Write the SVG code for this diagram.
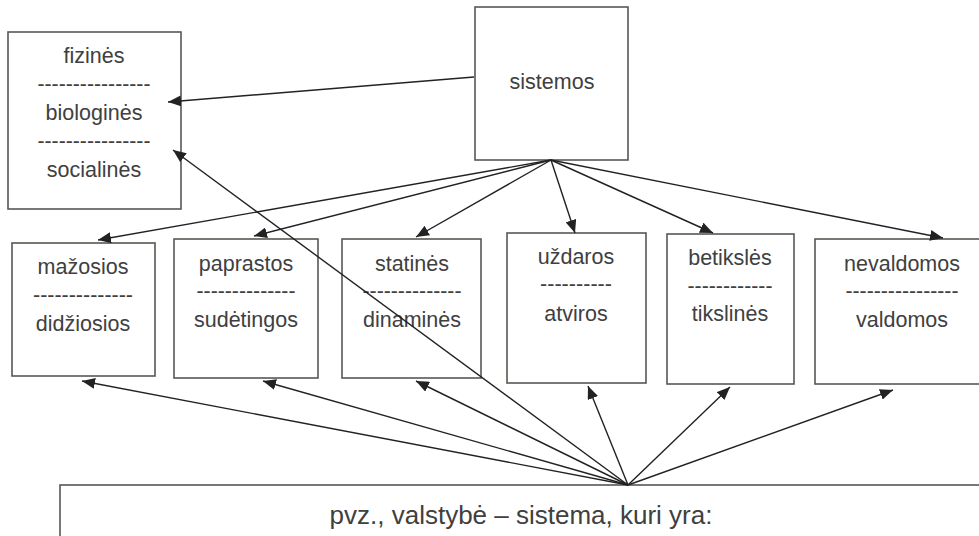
<svg xmlns="http://www.w3.org/2000/svg" width="979" height="536" viewBox="0 0 979 536">
<style>
.box{fill:#fff;stroke:#5b5652;stroke-width:1.6}
.t{font-family:"Liberation Sans",Arial,sans-serif;font-size:21.5px;fill:#404040;text-anchor:middle}
.big{font-size:26px}
.ln{stroke:#222;stroke-width:1.4;fill:none;marker-end:url(#ah)}
</style>
<defs>
<marker id="ah" markerUnits="userSpaceOnUse" markerWidth="13" markerHeight="11" refX="13" refY="5.5" orient="auto">
<path d="M0,0 L13,5.5 L0,11 z" fill="#222"/>
</marker>
</defs>
<rect width="979" height="536" fill="#fff"/>
<g id="fizines">
<rect class="box" x="8" y="32" width="173" height="177"/>
<text class="t" x="94" y="63">fizinės</text>
<text class="t" x="94" y="91" textLength="113" lengthAdjust="spacingAndGlyphs">----------------</text>
<text class="t" x="94" y="120">biologinės</text>
<text class="t" x="94" y="148" textLength="113" lengthAdjust="spacingAndGlyphs">----------------</text>
<text class="t" x="94" y="177">socialinės</text>
</g>
<g id="sistemos">
<rect class="box" x="475" y="7" width="153" height="153"/>
<text class="t" x="552" y="89">sistemos</text>
</g>
<g id="mazosios">
<rect class="box" x="12" y="243" width="143" height="133"/>
<text class="t" x="83" y="274">mažosios</text>
<text class="t" x="83" y="302" textLength="100" lengthAdjust="spacingAndGlyphs">--------------</text>
<text class="t" x="83" y="331">didžiosios</text>
</g>
<g id="paprastos">
<rect class="box" x="174" y="239" width="144" height="139"/>
<text class="t" x="246" y="271">paprastos</text>
<text class="t" x="246" y="298" textLength="99" lengthAdjust="spacingAndGlyphs">--------------</text>
<text class="t" x="246" y="327">sudėtingos</text>
</g>
<g id="statines">
<rect class="box" x="342" y="239" width="139" height="139"/>
<text class="t" x="412" y="271">statinės</text>
<text class="t" x="412" y="298" textLength="99" lengthAdjust="spacingAndGlyphs">--------------</text>
<text class="t" x="412" y="327">dinaminės</text>
</g>
<g id="uzdaros">
<rect class="box" x="507" y="233" width="139" height="150"/>
<text class="t" x="576" y="264">uždaros</text>
<text class="t" x="576" y="291" textLength="72" lengthAdjust="spacingAndGlyphs">----------</text>
<text class="t" x="576" y="321">atviros</text>
</g>
<g id="betiksles">
<rect class="box" x="667" y="234" width="127" height="150"/>
<text class="t" x="730" y="265">betikslės</text>
<text class="t" x="730" y="293" textLength="85" lengthAdjust="spacingAndGlyphs">------------</text>
<text class="t" x="730" y="321">tikslinės</text>
</g>
<g id="nevaldomos">
<rect class="box" x="815" y="239" width="170" height="145"/>
<text class="t" x="902" y="271">nevaldomos</text>
<text class="t" x="902" y="298" textLength="113" lengthAdjust="spacingAndGlyphs">----------------</text>
<text class="t" x="902" y="327">valdomos</text>
</g>
<g id="valstybe">
<rect class="box" x="60" y="485" width="930" height="60"/>
<text class="t big" x="521" y="524">pvz., valstybė – sistema, kuri yra:</text>
</g>
<g id="connectors">
<line class="ln" x1="474" y1="77" x2="168" y2="102"/>
<line class="ln" x1="551" y1="160" x2="98" y2="240"/>
<line class="ln" x1="551" y1="160" x2="254" y2="236"/>
<line class="ln" x1="551" y1="160" x2="416" y2="237"/>
<line class="ln" x1="551" y1="160" x2="575" y2="233"/>
<line class="ln" x1="551" y1="160" x2="713" y2="233"/>
<line class="ln" x1="551" y1="160" x2="943" y2="238"/>
<line class="ln" x1="628" y1="485" x2="82" y2="381"/>
<line class="ln" x1="628" y1="485" x2="263" y2="381"/>
<line class="ln" x1="628" y1="485" x2="416" y2="381"/>
<line class="ln" x1="628" y1="485" x2="588" y2="386"/>
<line class="ln" x1="628" y1="485" x2="730" y2="387"/>
<line class="ln" x1="628" y1="485" x2="893" y2="390"/>
<line class="ln" x1="628" y1="485" x2="173" y2="150"/>
</g>
</svg>
